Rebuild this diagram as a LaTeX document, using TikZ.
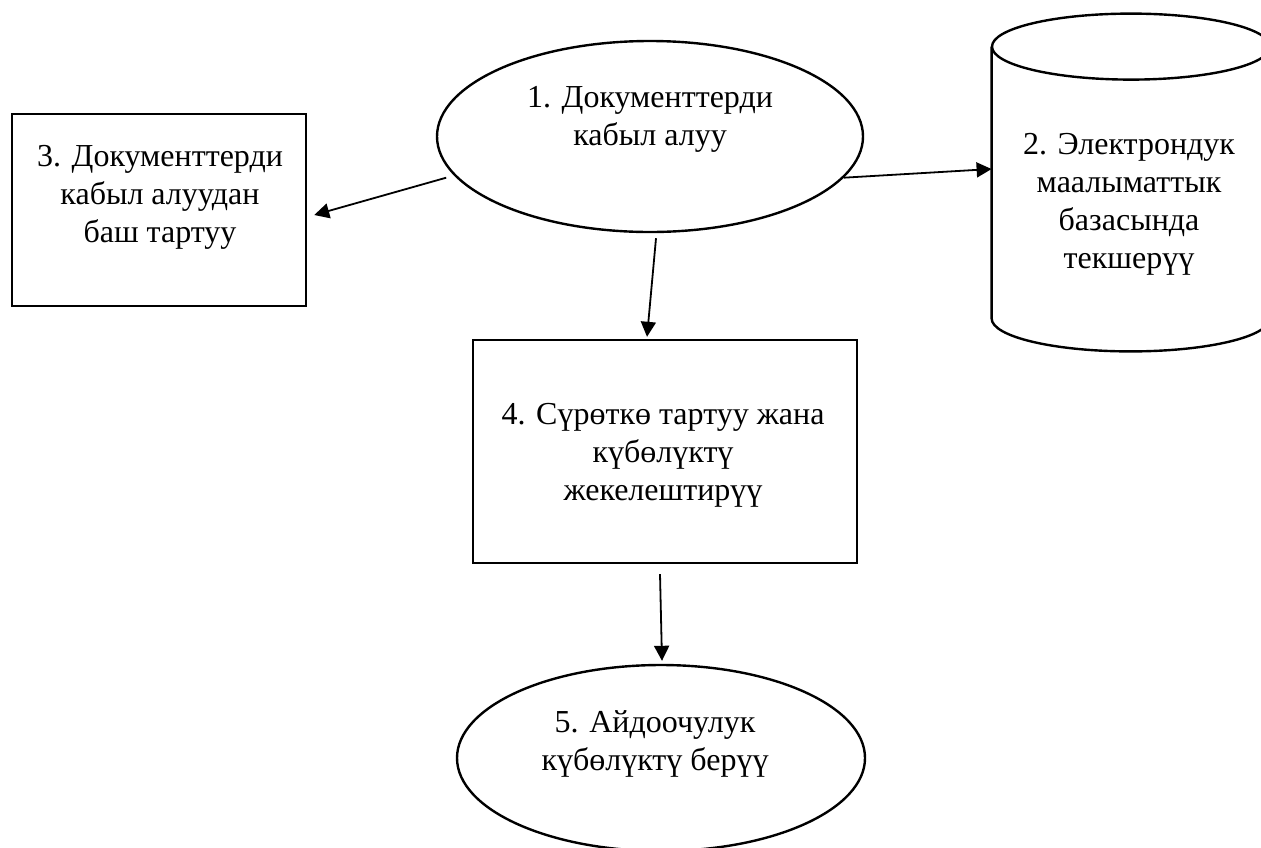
\documentclass[tikz,border=0pt]{standalone}
\usepackage{fontspec}
\setmainfont{Liberation Serif}
\usetikzlibrary{shapes.geometric,arrows.meta}
\begin{document}
\begin{tikzpicture}[x=0.5pt,y=-0.5pt,
    outline/.style={draw, line width=1.2pt, inner sep=0pt},
    caption/.style={align=center, font=\fontsize{16}{19}\selectfont, inner sep=0pt},
    flow/.style={-{Triangle[length=7.5pt,width=7.5pt]}, line width=0.9pt}]
    \useasboundingbox (0,0) rectangle (1261,847);
    \clip (0,0) rectangle (1261,847);
    \node[outline, ellipse, minimum width=213pt, minimum height=95.5pt] (accept) at (650,136.5) {};
    \node[caption] (accepttext) at (650,119) {1. Документтерди\\кабыл алуу};
    \node[outline, rectangle, minimum width=147pt, minimum height=96pt] (refuse) at (159,210) {};
    \node[caption] (refusetext) at (160,197) {3. Документтерди\\кабыл алуудан\\баш тартуу};
    \node[inner sep=0pt, minimum width=139pt, minimum height=135.5pt] (check) at (1131,182.5) {};
    \draw[line width=1.2pt] (check.north west) -- (check.south west)
        arc[start angle=180, end angle=360, x radius=69.5pt, y radius=16.5pt] -- (check.north east);
    \draw[line width=1.2pt] (check.north) ellipse[x radius=69.5pt, y radius=16.5pt];
    \node[caption] (checktext) at (1129,204) {2. Электрондук\\маалыматтык\\базасында\\текшерүү};
    \node[outline, rectangle, minimum width=192pt, minimum height=111.5pt] (photo) at (665,451.5) {};
    \node[caption] (phototext) at (663,455) {4. Сүрөткө тартуу жана\\күбөлүктү\\жекелештирүү};
    \node[outline, ellipse, minimum width=204pt, minimum height=93pt] (issue) at (661,758) {};
    \node[caption] (issuetext) at (655,744) {5. Айдоочулук\\күбөлүктү берүү};
    \draw[flow] ([shift={(-10,0)}]accept.192) -- ([shift={(7,5)}]refuse.east);
    \draw[flow] (accept.348) -- ([shift={(0,-13.5)}]check.west);
    \draw[flow] ([shift={(6,5)}]accept.south) -- ([shift={(-18,-2)}]photo.north);
    \draw[flow] ([shift={(-5,10)}]photo.south) -- ([shift={(1,-3)}]issue.north);
\end{tikzpicture}
\end{document}
